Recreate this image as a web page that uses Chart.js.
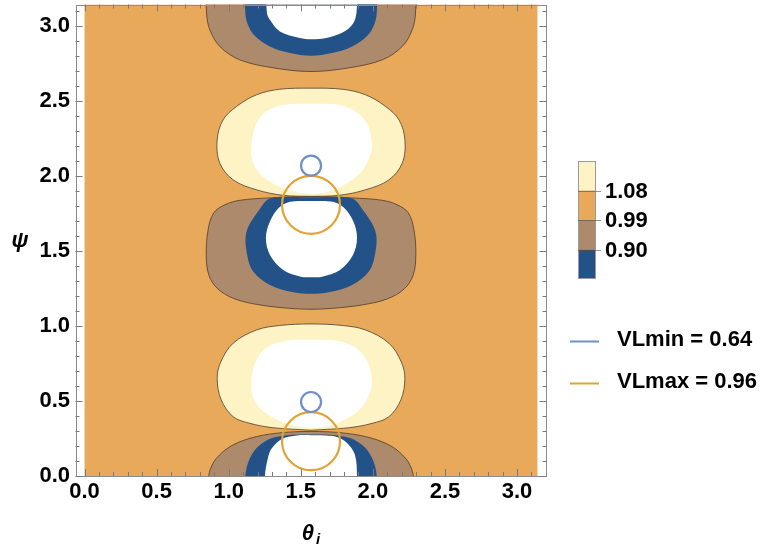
<!DOCTYPE html>
<html><head><meta charset="utf-8">
<script src="https://cdn.jsdelivr.net/npm/chart.js@4/dist/chart.umd.min.js"></script>
<style>html,body{margin:0;padding:0;background:#fff;}canvas{display:block;}</style>
</head><body>
<canvas id="c" width="764" height="550"></canvas>
<script>
// ---------- data ----------
const xTicks = [0.0, 0.5, 1.0, 1.5, 2.0, 2.5, 3.0];
const yTicks = [0.0, 0.5, 1.0, 1.5, 2.0, 2.5, 3.0];
const contourLevels = [1.08, 0.99, 0.90];
const bandColors = ['#fef3c4', '#e8a95b', '#ad8a6c', '#235289']; // >1.08, 0.99-1.08, 0.90-0.99, <0.90
const lineLegend = ['VLmin = 0.64', 'VLmax = 0.96'];
const lineLegendColors = ['#6f8fca', '#e3a234'];
const vlMinCenters = [[1.571, 2.068], [1.571, 0.493]];
const vlMaxCenters = [[1.571, 1.807], [1.571, 0.232]];

// contour regions: [theta, psi]
const bgRegion = [[0,0],[3.1416,0],[3.1416,3.1416],[0,3.1416],[0,0]];
const topBrown = [[0.846,3.3],[0.846,3.085],[0.869,2.973],[0.938,2.862],[1.077,2.773],[1.306,2.72],[1.571,2.695],[1.836,2.72],[2.065,2.773],[2.204,2.862],[2.273,2.973],[2.296,3.085],[2.296,3.3]];
const topBlue = [[1.112,3.3],[1.115,3.087],[1.133,3.007],[1.181,2.933],[1.286,2.862],[1.425,2.818],[1.571,2.8],[1.717,2.818],[1.856,2.862],[1.961,2.933],[2.009,3.007],[2.027,3.087],[2.03,3.3]];
const topWhite = [[1.258,3.3],[1.265,3.087],[1.286,3.04],[1.355,2.962],[1.494,2.918],[1.571,2.91],[1.668,2.917],[1.786,2.953],[1.862,3.013],[1.887,3.093],[1.89,3.3]];
const upperYellow = [[1.571,1.863],[1.764,1.87],[1.949,1.907],[2.111,1.973],[2.204,2.085],[2.222,2.24],[2.181,2.373],[2.088,2.462],[1.949,2.54],[1.787,2.577],[1.571,2.584],[1.355,2.577],[1.193,2.54],[1.054,2.462],[0.961,2.373],[0.92,2.24],[0.938,2.085],[1.031,1.973],[1.193,1.907],[1.378,1.87],[1.571,1.863]];
const upperWhite = [[1.571,1.88],[1.688,1.893],[1.814,1.947],[1.925,2.033],[1.987,2.153],[1.991,2.24],[1.96,2.347],[1.883,2.427],[1.758,2.473],[1.571,2.48],[1.39,2.473],[1.258,2.427],[1.188,2.34],[1.157,2.207],[1.167,2.093],[1.23,2.0],[1.341,1.933],[1.459,1.893],[1.571,1.88]];
const midBrown = [[1.571,1.863],[1.286,1.853],[1.077,1.837],[0.973,1.807],[0.896,1.753],[0.857,1.64],[0.844,1.473],[0.862,1.34],[0.924,1.247],[1.042,1.18],[1.216,1.14],[1.425,1.117],[1.571,1.111],[1.717,1.117],[1.926,1.14],[2.1,1.18],[2.218,1.247],[2.28,1.34],[2.298,1.473],[2.285,1.64],[2.246,1.753],[2.169,1.807],[2.065,1.837],[1.856,1.853],[1.571,1.863]];
const midBlue = [[1.571,1.857],[1.29,1.85],[1.21,1.77],[1.124,1.629],[1.124,1.495],[1.17,1.362],[1.286,1.273],[1.448,1.225],[1.571,1.215],[1.694,1.225],[1.856,1.273],[1.972,1.362],[2.018,1.495],[2.018,1.629],[1.932,1.77],[1.852,1.85],[1.571,1.857]];
const midWhite = [[1.571,1.833],[1.425,1.827],[1.348,1.787],[1.286,1.695],[1.258,1.585],[1.286,1.473],[1.378,1.373],[1.494,1.33],[1.571,1.325],[1.654,1.33],[1.772,1.373],[1.862,1.473],[1.89,1.585],[1.865,1.695],[1.8,1.787],[1.723,1.827],[1.571,1.833]];
const lowerYellow = [[1.571,0.305],[1.836,0.322],[1.995,0.351],[2.111,0.395],[2.194,0.507],[2.222,0.65],[2.197,0.76],[2.111,0.885],[1.949,0.973],[1.787,1.003],[1.571,1.013],[1.355,1.003],[1.193,0.973],[1.031,0.885],[0.945,0.76],[0.92,0.65],[0.948,0.507],[1.031,0.395],[1.147,0.351],[1.306,0.322],[1.571,0.305]];
const lowerWhite = [[1.571,0.32],[1.688,0.333],[1.814,0.38],[1.925,0.46],[1.987,0.58],[1.991,0.66],[1.96,0.767],[1.883,0.853],[1.758,0.9],[1.571,0.907],[1.39,0.9],[1.258,0.853],[1.188,0.767],[1.157,0.64],[1.167,0.527],[1.23,0.44],[1.341,0.373],[1.459,0.333],[1.571,0.32]];
const bottomBrown = [[0.862,-0.2],[0.862,0.0],[0.876,0.053],[0.915,0.118],[1.008,0.195],[1.147,0.251],[1.332,0.285],[1.571,0.297],[1.81,0.285],[1.995,0.251],[2.134,0.195],[2.227,0.118],[2.266,0.053],[2.28,0.0],[2.28,-0.2]];
const bottomBlue = [[1.115,-0.2],[1.115,0.0],[1.147,0.118],[1.216,0.207],[1.332,0.262],[1.571,0.277],[1.81,0.262],[1.926,0.207],[1.995,0.118],[2.027,0.0],[2.027,-0.2]];
const bottomWhite = [[1.251,-0.2],[1.251,0.0],[1.272,0.12],[1.3,0.187],[1.376,0.25],[1.473,0.27],[1.571,0.272],[1.675,0.27],[1.751,0.26],[1.821,0.22],[1.876,0.14],[1.89,0.0],[1.89,-0.2]];

// ---------- styling ----------
const LINE = 'rgba(70,55,40,0.75)';
const FONT = "'Liberation Sans', Arial, sans-serif";
function region(pts, color, line, order, tension) {
  return {
    data: pts.map(p => ({x: p[0], y: p[1]})),
    showLine: true, fill: 'shape', backgroundColor: color,
    borderColor: line || 'rgba(0,0,0,0)', borderWidth: line ? 1 : 0,
    pointRadius: 0, tension: tension === undefined ? 0.35 : tension, order: order
  };
}
function circles(pts, color, r, order) {
  return {
    data: pts.map(p => ({x: p[0], y: p[1]})),
    showLine: false, pointRadius: r, pointStyle: 'circle',
    pointBorderColor: color, pointBackgroundColor: 'rgba(0,0,0,0)', pointBorderWidth: 2.2,
    order: order
  };
}
const datasets = [
  region(bgRegion, bandColors[1], null, 10, 0),
  region(topBrown, bandColors[2], LINE, 8),
  region(midBrown, bandColors[2], LINE, 8),
  region(bottomBrown, bandColors[2], LINE, 8),
  region(upperYellow, bandColors[0], LINE, 8),
  region(lowerYellow, bandColors[0], LINE, 8),
  region(topBlue, bandColors[3], null, 7),
  region(midBlue, bandColors[3], null, 7),
  region(bottomBlue, bandColors[3], null, 7),
  region(topWhite, '#ffffff', null, 6),
  region(midWhite, '#ffffff', null, 6),
  region(bottomWhite, '#ffffff', null, 6),
  region(upperWhite, '#ffffff', null, 6),
  region(lowerWhite, '#ffffff', null, 6),
  circles(vlMinCenters, lineLegendColors[0], 10, 1),
  circles(vlMaxCenters, lineLegendColors[1], 29, 1)
];

const framePlugin = {
  id: 'frame',
  afterDatasetsDraw(chart) {
    const ctx = chart.ctx, a = chart.chartArea;
    const xs = chart.scales.x, ys = chart.scales.y;
    ctx.save();
    ctx.strokeStyle = '#8c8c8c'; ctx.lineWidth = 1;
    ctx.strokeRect(Math.round(a.left) + 0.5, Math.round(a.top) + 0.5, Math.round(a.right - a.left) - 1, Math.round(a.bottom - a.top) - 1);
    ctx.strokeStyle = '#7a7a7a';
    ctx.beginPath();
    for (let k = 0; k <= 31; k++) {
      const v = k / 10; const major = k % 5 === 0; const L = major ? 7 : 4;
      const px = Math.round(xs.getPixelForValue(v)) + 0.5;
      ctx.moveTo(px, a.bottom); ctx.lineTo(px, a.bottom - L);
      ctx.moveTo(px, a.top); ctx.lineTo(px, a.top + L);
      if (v <= 3.14) {
        const py = Math.round(ys.getPixelForValue(v)) + 0.5;
        ctx.moveTo(a.left, py); ctx.lineTo(a.left + L, py);
        ctx.moveTo(a.right, py); ctx.lineTo(a.right - L, py);
      }
    }
    ctx.stroke();
    ctx.restore();
  },
  afterDraw(chart) {
    const ctx = chart.ctx;
    ctx.save();
    ctx.fillStyle = '#000';
    // axis titles
    ctx.textBaseline = 'alphabetic'; ctx.textAlign = 'center';
    ctx.font = 'italic bold 22px ' + FONT;
    ctx.fillText('\u03C8', 20, 247);
    ctx.fillText('\u03B8', 308, 540);
    ctx.font = 'italic bold 15px ' + FONT;
    ctx.fillText('i', 318, 544);
    // color bar
    const bx = 578, bw = 18, by = 161, bh = 29.5;
    for (let i = 0; i < bandColors.length; i++) {
      ctx.fillStyle = bandColors[i];
      ctx.fillRect(bx, by + i * bh, bw, bh);
    }
    ctx.strokeStyle = '#9a9a9a'; ctx.lineWidth = 1;
    ctx.strokeRect(bx + 0.5, by + 0.5, bw - 1, bh * 4 - 1);
    ctx.strokeStyle = 'rgba(90,80,70,0.6)';
    ctx.beginPath();
    for (let i = 1; i < 4; i++) {
      const y = Math.round(by + i * bh) + 0.5;
      ctx.moveTo(bx, y); ctx.lineTo(bx + bw + 5, y);
    }
    ctx.stroke();
    ctx.fillStyle = '#000';
    ctx.font = 'bold 22px ' + FONT; ctx.textAlign = 'left'; ctx.textBaseline = 'middle';
    for (let i = 0; i < contourLevels.length; i++) {
      ctx.fillText(contourLevels[i].toFixed(2), 605, by + (i + 1) * bh + 1);
    }
    // line legend
    const ly = [341.5, 383.5];
    for (let i = 0; i < lineLegend.length; i++) {
      ctx.strokeStyle = lineLegendColors[i]; ctx.lineWidth = 2;
      ctx.beginPath(); ctx.moveTo(570, ly[i]); ctx.lineTo(599, ly[i]); ctx.stroke();
      ctx.fillStyle = '#000';
      ctx.fillText(lineLegend[i], 617, ly[i] - 2);
    }
    ctx.restore();
  }
};

function noPad(s) { s.paddingTop = 0; s.paddingBottom = 0; s.paddingLeft = 0; s.paddingRight = 0; }

new Chart(document.getElementById('c'), {
  type: 'line',
  data: {datasets},
  options: {
    responsive: false, animation: false, events: [],
    layout: {autoPadding: false, padding: {left: 0, right: 217.5, top: 4.5, bottom: 0}},
    plugins: {legend: {display: false}, tooltip: {enabled: false}},
    scales: {
      x: {
        type: 'linear', min: -0.0628, max: 3.2044,
        grid: {display: false, drawTicks: false}, border: {display: false},
        afterBuildTicks: s => { s.ticks = xTicks.map(v => ({value: v})); },
        afterFit: s => { s.height = 74; noPad(s); },
        ticks: {padding: 3, color: '#000', font: {family: FONT, size: 22, weight: 'bold'}, callback: v => Number(v).toFixed(1), maxRotation: 0, autoSkip: false}
      },
      y: {
        type: 'linear', min: 0, max: 3.1416,
        grid: {display: false, drawTicks: false}, border: {display: false},
        afterBuildTicks: s => { s.ticks = yTicks.map(v => ({value: v})); },
        afterFit: s => { s.width = 75.5; noPad(s); },
        ticks: {padding: 5.5, color: '#000', font: {family: FONT, size: 22, weight: 'bold'}, callback: v => Number(v).toFixed(1), autoSkip: false}
      }
    }
  },
  plugins: [framePlugin]
});
</script>
</body></html>
